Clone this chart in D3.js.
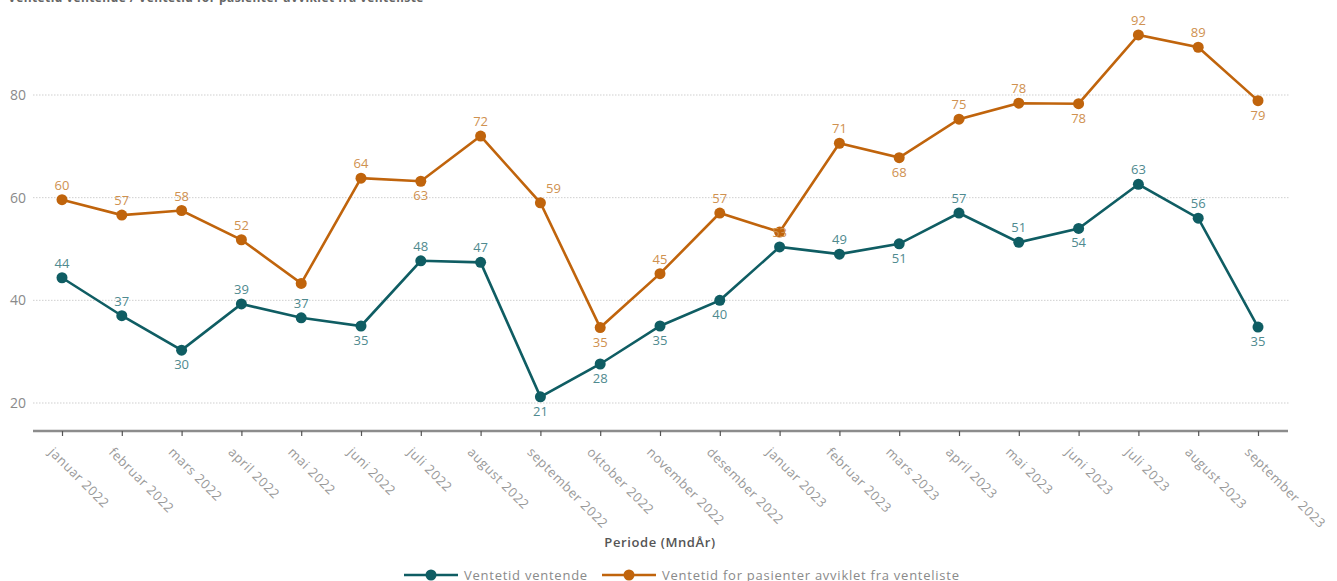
<!DOCTYPE html>
<html>
<head>
<meta charset="utf-8">
<script src="https://cdn.jsdelivr.net/npm/d3@7"></script>
<style>
  html, body { margin: 0; padding: 0; background: #fff; }
  svg { display: block; font-family: "Open Sans", sans-serif; }
</style>
</head>
<body>
<svg id="chart" width="1337" height="581"></svg>
<script>
const titleText = "Ventetid ventende / Ventetid for pasienter avviklet fra venteliste";
const categories = ["januar 2022","februar 2022","mars 2022","april 2022","mai 2022","juni 2022","juli 2022","august 2022","september 2022","oktober 2022","november 2022","desember 2022","januar 2023","februar 2023","mars 2023","april 2023","mai 2023","juni 2023","juli 2023","august 2023","september 2023"];
const ventende = [44.4, 37, 30.3, 39.3, 36.6, 35, 47.7, 47.4, 21.2, 27.6, 35, 40, 50.4, 49, 51, 57, 51.3, 54, 62.6, 56, 34.8];
const avviklet = [59.6, 56.6, 57.5, 51.8, 43.3, 63.8, 63.2, 72, 59, 34.7, 45.2, 57, 53.3, 70.6, 67.8, 75.3, 78.4, 78.3, 91.7, 89.3, 78.9];
const ventendeLabelPos = ["a","a","b","a","a","b","a","a","b","b","b","b","n","a","b","a","a","b","a","a","b"];
const avvikletLabelPos = ["a","a","a","a","n","a","b","a","ar","b","a","a","c","a","b","a","a","b","a","a","b"];
const yTicks = [20, 40, 60, 80];
const seriesNames = ["Ventetid ventende", "Ventetid for pasienter avviklet fra venteliste"];
const xTitle = "Periode (MndÅr)";

const svg = d3.select("#chart");
const colors = ["#0f5d63", "#c0640c"];
const labelColors = ["#4f8a8f", "#cf9150"];

const x = d3.scalePoint().domain(categories).range([62, 1258]);
const y = d3.scaleLinear().domain([20, 80]).range([403, 95]);

// title (clipped at top)
svg.append("text").attr("x", 8).attr("y", 2).attr("font-size", 12).attr("font-weight", 700)
  .attr("fill", "#666").attr("letter-spacing", 0.4).text(titleText);

// gridlines
svg.append("g").selectAll("line").data(yTicks).join("line")
  .attr("x1", 33).attr("x2", 1290)
  .attr("y1", d => y(d)).attr("y2", d => y(d))
  .attr("stroke", "#cfcfcf").attr("stroke-width", 1).attr("stroke-dasharray", "1.5,1.5");

// y labels
svg.append("g").selectAll("text").data(yTicks).join("text")
  .attr("x", 26).attr("y", d => y(d)).attr("dy", "0.35em")
  .attr("text-anchor", "end").attr("font-size", 14).attr("fill", "#8a8a8a")
  .text(d => d);

// x axis
const xAxis = svg.append("g").attr("transform", "translate(0,431)")
  .call(d3.axisBottom(x).tickSize(5).tickFormat(""));
xAxis.select(".domain").attr("d", "M33,0H1288").attr("stroke", "#8c8c8c").attr("stroke-width", 2.5);
xAxis.selectAll(".tick line").attr("stroke", "#555").attr("stroke-width", 1.2);

svg.append("g").selectAll("text").data(categories).join("text")
  .attr("transform", d => `translate(${x(d) - 6},${445}) rotate(45)`)
  .attr("font-size", 13).attr("letter-spacing", 0.6).attr("fill", "#9a9a9a")
  .attr("dominant-baseline", "hanging")
  .text(d => d);

// x title
svg.append("text").attr("x", 660).attr("y", 547).attr("text-anchor", "middle")
  .attr("font-size", 13).attr("letter-spacing", 0.6).attr("font-weight", 600).attr("fill", "#555").text(xTitle);

const seriesData = [ventende, avviklet];
const labelPos = [ventendeLabelPos, avvikletLabelPos];
const line = d3.line().x((d, i) => x(categories[i])).y(d => y(d));

// lines & markers
seriesData.forEach((vals, s) => {
  svg.append("path").datum(vals).attr("d", line)
    .attr("fill", "none").attr("stroke", colors[s]).attr("stroke-width", 2.6);
});
seriesData.forEach((vals, s) => {
  svg.append("g").selectAll("circle").data(vals).join("circle")
    .attr("cx", (d, i) => x(categories[i])).attr("cy", d => y(d)).attr("r", 5.5)
    .attr("fill", colors[s]);
});

// labels
seriesData.forEach((vals, s) => {
  svg.append("g").selectAll("text").data(vals.map((v, i) => ({v, i, p: labelPos[s][i]})).filter(d => d.p !== "n"))
    .join("text")
    .attr("x", d => x(categories[d.i]) + (d.p === "ar" ? 13 : 0))
    .attr("y", d => y(d.v) + (d.p === "b" ? 19 : d.p === "c" ? 5 : -10))
    .attr("text-anchor", "middle").attr("font-size", 13).attr("fill", labelColors[s])
    .text(d => Math.round(d.v));
});

// legend
const legend = [
  {x0: 404, name: seriesNames[0], c: colors[0]},
  {x0: 602, name: seriesNames[1], c: colors[1]}
];
const lg = svg.append("g");
legend.forEach(l => {
  lg.append("line").attr("x1", l.x0).attr("x2", l.x0 + 54).attr("y1", 575).attr("y2", 575)
    .attr("stroke", l.c).attr("stroke-width", 2.6);
  lg.append("circle").attr("cx", l.x0 + 27).attr("cy", 575).attr("r", 5.5).attr("fill", l.c);
  lg.append("text").attr("x", l.x0 + 60).attr("y", 575).attr("dy", "0.35em")
    .attr("font-size", 13).attr("letter-spacing", 0.75).attr("fill", "#8a8a8a").text(l.name);
});
</script>
</body>
</html>
